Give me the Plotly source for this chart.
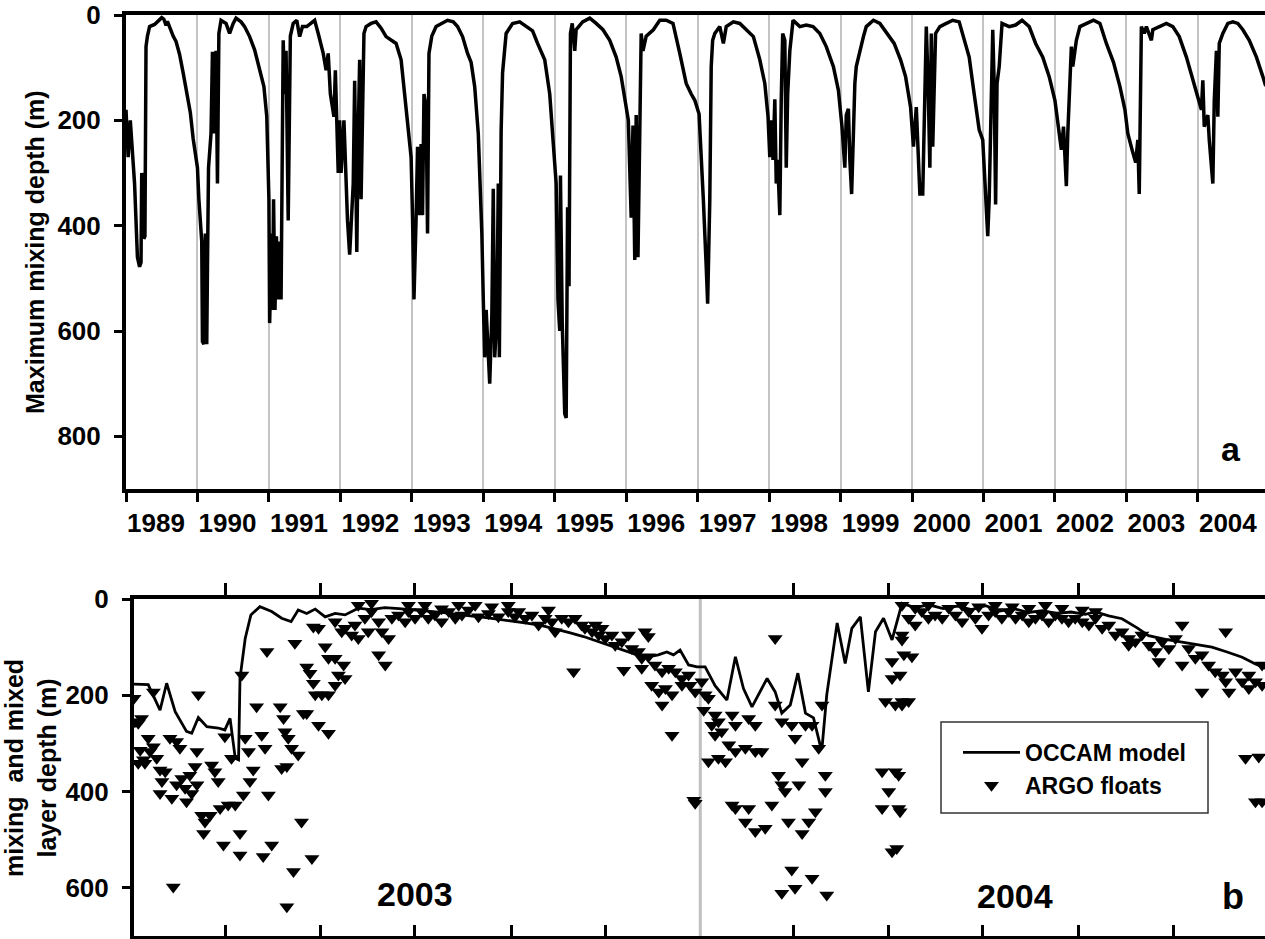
import plotly.graph_objects as go
import numpy as np
import pandas as pd

FONT = "Liberation Sans, Arial, sans-serif"

# ---------------- Panel a: maximum mixing depth (decimal year, depth m) -------------
top_year = [
    1989.00, 1989.03, 1989.06, 1989.09, 1989.12, 1989.16, 1989.19, 1989.21, 1989.22, 1989.24,
    1989.25, 1989.265, 1989.28, 1989.30, 1989.33, 1989.40, 1989.45, 1989.50, 1989.53, 1989.56,
    1989.58, 1989.62, 1989.66, 1989.70, 1989.75, 1989.80, 1989.83, 1989.86, 1989.90, 1989.94,
    1989.97, 1990.00, 1990.02, 1990.06, 1990.07, 1990.09, 1990.11, 1990.13, 1990.14, 1990.155,
    1990.19, 1990.21, 1990.235, 1990.26, 1990.28, 1990.30, 1990.33, 1990.40, 1990.45, 1990.50,
    1990.54, 1990.61, 1990.66, 1990.73, 1990.80, 1990.87, 1990.93, 1990.97, 1991.00, 1991.01,
    1991.04, 1991.05, 1991.065, 1991.085, 1991.105, 1991.13, 1991.15, 1991.17, 1991.19, 1991.20,
    1991.22, 1991.24, 1991.27, 1991.285, 1991.30, 1991.34, 1991.39, 1991.43, 1991.47, 1991.53,
    1991.60, 1991.64, 1991.69, 1991.76, 1991.80, 1991.83, 1991.86, 1991.91, 1991.93, 1991.95,
    1991.97, 1991.99, 1992.01, 1992.05, 1992.075, 1992.10, 1992.13, 1992.15, 1992.18, 1992.20,
    1992.215, 1992.23, 1992.25, 1992.27, 1992.29, 1992.305, 1992.33, 1992.36, 1992.43, 1992.50,
    1992.57, 1992.64, 1992.71, 1992.78, 1992.85, 1992.89, 1992.95, 1992.99, 1993.01, 1993.03,
    1993.06, 1993.08, 1993.10, 1993.13, 1993.15, 1993.17, 1993.20, 1993.22, 1993.24, 1993.28,
    1993.34, 1993.41, 1993.50, 1993.58, 1993.64, 1993.71, 1993.78, 1993.83, 1993.88, 1993.93,
    1993.98, 1994.00, 1994.02, 1994.04, 1994.07, 1994.09, 1994.12, 1994.14, 1994.16, 1994.19,
    1994.21, 1994.225, 1994.25, 1994.27, 1994.32, 1994.41, 1994.51, 1994.60, 1994.69, 1994.76,
    1994.86, 1994.93, 1994.97, 1995.02, 1995.045, 1995.07, 1995.08, 1995.105, 1995.14, 1995.16,
    1995.18, 1995.20, 1995.22, 1995.245, 1995.28, 1995.30, 1995.39, 1995.49, 1995.58, 1995.675,
    1995.77, 1995.86, 1995.93, 1996.00, 1996.03, 1996.07, 1996.095, 1996.12, 1996.14, 1996.165,
    1996.19, 1996.21, 1996.235, 1996.28, 1996.38, 1996.47, 1996.56, 1996.655, 1996.75, 1996.84,
    1996.91, 1996.96, 1997.02, 1997.05, 1997.08, 1997.12, 1997.14, 1997.17, 1997.19, 1997.21,
    1997.24, 1997.31, 1997.36, 1997.40, 1997.50, 1997.59, 1997.68, 1997.78, 1997.87, 1997.94,
    1997.985, 1998.01, 1998.03, 1998.055, 1998.08, 1998.10, 1998.12, 1998.15, 1998.17, 1998.19,
    1998.22, 1998.24, 1998.26, 1998.29, 1998.335, 1998.43, 1998.52, 1998.615, 1998.71, 1998.80,
    1998.90, 1998.97, 1999.02, 1999.06, 1999.08, 1999.11, 1999.13, 1999.155, 1999.18, 1999.20,
    1999.22, 1999.27, 1999.32, 1999.36, 1999.46, 1999.55, 1999.65, 1999.75, 1999.84, 1999.91,
    1999.98, 2000.02, 2000.06, 2000.09, 2000.11, 2000.15, 2000.18, 2000.20, 2000.225, 2000.25,
    2000.27, 2000.29, 2000.33, 2000.39, 2000.48, 2000.57, 2000.66, 2000.71, 2000.80, 2000.87,
    2000.94, 2000.99, 2001.01, 2001.03, 2001.06, 2001.08, 2001.10, 2001.13, 2001.15, 2001.17,
    2001.19, 2001.22, 2001.26, 2001.36, 2001.45, 2001.54, 2001.64, 2001.73, 2001.83, 2001.92,
    2002.00, 2002.04, 2002.09, 2002.12, 2002.16, 2002.18, 2002.21, 2002.23, 2002.25, 2002.28,
    2002.30, 2002.35, 2002.44, 2002.54, 2002.63, 2002.72, 2002.82, 2002.91, 2002.98, 2003.02,
    2003.08, 2003.13, 2003.16, 2003.18, 2003.21, 2003.25, 2003.28, 2003.35, 2003.37, 2003.46,
    2003.56, 2003.65, 2003.74, 2003.84, 2003.93, 2004.00, 2004.05, 2004.07, 2004.09, 2004.14,
    2004.16, 2004.21, 2004.23, 2004.26, 2004.28, 2004.30, 2004.35, 2004.42, 2004.49, 2004.56,
    2004.63, 2004.72, 2004.82, 2004.91, 2004.95,
]
top_depth = [
    180, 270, 200, 265, 320, 460, 478, 470, 300, 320,
    425, 420, 60, 40, 22, 18, 12, 5, 8, 20,
    12, 28, 40, 50, 75, 110, 135, 150, 185, 235,
    260, 290, 350, 430, 620, 625, 415, 625, 480, 290,
    225, 70, 225, 68, 320, 35, 10, 16, 35, 16,
    6, 13, 22, 41, 66, 105, 136, 193, 350, 585,
    415, 560, 350, 560, 420, 540, 430, 540, 160, 48,
    150, 68, 390, 130, 40, 16, 10, 41, 22, 22,
    13, 10, 35, 73, 105, 73, 150, 193, 105, 225,
    300, 200, 300, 200, 300, 390, 455, 385, 320, 125,
    290, 450, 225, 85, 350, 195, 35, 22, 16, 13,
    25, 41, 48, 54, 85, 136, 212, 270, 385, 540,
    385, 250, 380, 245, 380, 150, 175, 415, 73, 40,
    22, 16, 10, 13, 22, 41, 73, 90, 136, 225,
    415, 540, 650, 560, 655, 700, 570, 330, 650, 575,
    320, 650, 220, 110, 35, 16, 13, 22, 30, 54,
    85, 150, 225, 320, 540, 600, 305, 585, 757, 765,
    365, 515, 35, 16, 68, 28, 13, 6, 16, 28,
    48, 80, 117, 180, 200, 385, 210, 465, 190, 460,
    200, 35, 68, 40, 28, 10, 10, 16, 73, 130,
    150, 162, 188, 256, 351, 478, 548, 351, 98, 48,
    35, 22, 54, 22, 13, 16, 28, 41, 85, 130,
    193, 270, 200, 275, 160, 320, 275, 380, 160, 35,
    48, 290, 150, 68, 10, 22, 19, 22, 35, 60,
    98, 143, 212, 290, 190, 178, 275, 340, 225, 130,
    98, 68, 41, 22, 10, 16, 35, 54, 85, 117,
    175, 250, 175, 290, 340, 340, 98, 22, 130, 290,
    35, 250, 35, 22, 16, 10, 13, 35, 80, 150,
    218, 237, 288, 325, 420, 350, 225, 28, 130, 360,
    130, 98, 16, 22, 19, 10, 22, 54, 80, 117,
    162, 200, 256, 212, 325, 225, 130, 60, 98, 68,
    48, 22, 16, 10, 16, 54, 90, 136, 180, 225,
    256, 280, 237, 340, 22, 35, 22, 48, 28, 22,
    16, 22, 41, 80, 124, 155, 180, 124, 212, 190,
    237, 320, 162, 68, 193, 54, 35, 16, 13, 16,
    28, 48, 80, 117, 135,
]
year_labels = [str(y) for y in range(1989, 2005)]

# ---------------- Panel b: months since 1 Jan 2003, depth (m) ----------------
occam_month = [
    0.00, 0.30, 0.55, 0.69, 0.87, 1.11, 1.22, 1.36, 1.54, 1.78, 1.92, 2.03, 2.14, 2.21,
    2.24, 2.35, 2.47, 2.66, 2.91, 3.12, 3.32, 3.47, 3.65, 3.83, 4.04, 4.25, 4.46, 4.74,
    5.0, 5.3, 5.6, 5.9, 6.2, 6.5, 6.8, 7.1, 7.4, 7.7, 8.0, 8.3, 8.6, 8.9, 9.2, 9.5,
    9.8, 10.1, 10.4, 10.6, 10.87, 11.08, 11.26, 11.40, 11.54, 11.72, 11.90, 12.07, 12.28,
    12.53, 12.71, 12.88, 13.06, 13.38, 13.55, 13.69, 13.87, 14.03, 14.19, 14.36, 14.50,
    14.54, 14.64, 14.86, 15.03, 15.17, 15.35, 15.52, 15.67, 15.84, 16.02, 16.23, 16.5,
    16.8, 17.1, 17.4, 17.7, 18.0, 18.3, 18.6, 18.9, 19.2, 19.5, 19.8, 20.1, 20.32, 20.6,
    20.88, 21.2, 21.44, 21.8, 22.15, 22.5, 22.78, 23.1, 23.42, 23.7, 23.95,
]
occam_depth = [
    177, 178, 231, 175, 234, 275, 279, 246, 265, 268, 272, 248, 331, 334,
    165, 82, 33, 16, 26, 40, 47, 23, 30, 21, 37, 30, 33, 19,
    22, 18, 20, 22, 25, 28, 32, 35, 38, 42, 45, 50, 55, 62, 70, 78,
    88, 98, 108, 115, 120, 116, 110, 116, 106, 137, 141, 141, 180,
    210, 120, 186, 224, 165, 193, 237, 220, 154, 237, 247, 303,
    310, 199, 50, 134, 61, 37, 193, 68, 40, 85, 9, 18,
    12, 20, 15, 22, 14, 25, 20, 28, 24, 30, 27, 32, 27, 35,
    41, 60, 76, 84, 90, 96, 100, 110, 121, 135, 145,
]
argo_month = [
    0.00, 0.02, 0.09, 0.16, 0.13, 0.20, 0.30, 0.34, 0.41, 0.48, 0.23, 0.09, 0.41, 0.55,
    0.59, 0.66, 0.55, 0.80, 0.76, 0.90, 0.97, 0.83, 0.90, 1.01, 1.08, 1.11, 1.18, 1.29,
    1.33, 1.36, 1.33, 1.22, 1.43, 1.50, 1.47, 1.61, 1.64, 1.71, 1.78, 1.82, 1.89, 1.92,
    1.99, 2.06, 2.14, 2.24, 2.24, 2.31, 2.28, 2.35, 2.42, 2.45, 2.52, 2.59, 2.70, 2.77,
    2.81, 2.84, 2.73, 2.91, 3.09, 3.16, 3.19, 3.26, 3.33, 3.12, 3.23, 3.37, 3.23, 3.40,
    3.47, 3.54, 3.58, 3.65, 3.76, 3.90, 4.11, 3.79, 3.90, 4.04, 4.11, 3.65, 3.72, 3.79,
    3.83, 3.97, 4.11, 4.25, 4.32, 4.46, 4.43, 4.25, 4.39, 4.25, 4.46, 4.60, 4.67, 4.74,
    4.88, 4.95, 5.02, 5.17, 5.24, 5.38, 5.17, 5.31, 5.45, 5.59, 5.73, 5.80, 5.94, 6.08,
    6.22, 6.36, 6.50, 6.65, 6.79, 6.93, 7.07, 7.28, 7.49, 7.70, 7.91, 8.05, 4.74, 5.02,
    5.80, 6.15, 6.50, 6.86, 7.21, 7.56, 7.91,
    8.13, 8.27, 8.41, 8.55, 8.69, 8.76, 8.90, 8.83, 9.04, 9.18, 9.32, 9.46, 9.53, 9.68,
    9.75, 9.82, 9.89, 9.96, 10.10, 10.17, 10.31, 10.45, 10.52, 10.80, 10.87, 10.66, 10.73,
    9.29, 10.35, 10.73, 10.87, 11.01, 11.16, 11.30, 11.44, 11.58, 11.72, 10.94, 11.09,
    11.23, 11.37, 11.16, 11.37, 11.58, 11.75, 11.86, 12.00, 12.07, 12.14, 11.83, 11.86,
    12.04, 12.28, 12.21, 12.35, 12.64, 12.71, 12.99, 13.13, 12.28, 12.42, 12.57, 12.71,
    12.92, 13.13, 13.27, 12.14, 12.35, 12.50, 12.64, 12.71, 12.92, 13.13, 13.34, 12.99,
    13.48, 13.55, 13.62, 13.69, 13.76, 13.69, 13.90, 13.97, 14.12, 14.05, 14.19, 14.33,
    13.55, 13.83, 14.12, 14.26, 14.40, 14.54, 14.47, 14.61, 14.61, 13.90, 13.97, 13.69,
    14.33, 14.64, 16.02, 16.02, 15.88, 16.09, 16.23, 15.81, 16.09, 15.95, 15.81, 16.16,
    16.02, 16.23, 16.23,
    16.23, 16.27, 16.44, 16.19, 16.23, 16.37, 16.16, 16.19, 16.12, 16.37, 16.51, 16.65,
    16.79, 16.93, 17.08, 17.22, 17.36, 17.50, 17.64, 17.78, 17.92, 18.06, 18.20, 18.34,
    18.49, 18.63, 18.77, 18.91, 19.05, 19.19, 19.33, 19.47, 19.61, 19.75, 19.89, 20.04,
    20.18, 20.32, 20.46, 20.60, 20.74, 20.88, 21.02, 21.02, 21.16, 21.30, 21.45, 21.59,
    21.66, 21.73, 21.87, 22.01, 22.15, 22.15, 22.29, 22.43, 22.57, 22.57, 22.71, 22.85,
    23.00, 23.07, 23.07, 23.14, 23.28, 23.42, 23.56, 23.56, 23.70, 23.84, 23.84, 23.49,
    23.77, 23.70, 23.84, 16.51, 16.79, 17.50, 17.85, 18.20, 18.56, 18.91, 19.26, 19.61,
    20.04, 20.32,
]
argo_depth = [
    206, 255, 258, 248, 314, 334, 289, 317, 307, 331, 341, 341, 193, 355,
    379, 359, 404, 414, 289, 296, 310, 598, 386, 373, 393, 421, 366, 348,
    317, 199, 386, 404, 449, 463, 487, 449, 345, 359, 379, 435, 511, 286,
    428, 331, 428, 487, 532, 407, 158, 289, 317, 379, 355, 224, 283, 310,
    109, 407, 535, 511, 224, 248, 276, 289, 310, 352, 348, 566, 639, 92,
    324, 463, 238, 238, 539, 262, 279, 58, 61, 99, 123, 141, 154, 175,
    199, 199, 199, 179, 158, 165, 137, 123, 68, 47, 61, 75, 54, 82,
    40, 68, 26, 47, 68, 82, 116, 137, 40, 33, 47, 26, 40, 26,
    40, 33, 47, 26, 40, 33, 23, 37, 30, 37, 26, 37, 13, 9,
    13, 13, 20, 13, 13, 16, 13,
    26, 40, 33, 54, 40, 23, 68, 47, 40, 47, 40, 54, 61, 68,
    54, 75, 61, 82, 75, 96, 89, 75, 103, 68, 78, 109, 123,
    151, 148, 144, 120, 137, 151, 144, 151, 165, 158, 179, 193,
    186, 199, 220, 283, 179, 179, 193, 172, 199, 206, 418, 424,
    231, 241, 262, 255, 241, 262, 248, 262, 283, 276, 303, 317,
    310, 317, 317, 338, 331, 338, 428, 435, 463, 483, 476, 435,
    428, 220, 366, 386, 400, 255, 262, 289, 338, 386, 262, 262,
    82, 463, 487, 463, 442, 220, 310, 366, 400, 563, 601, 611,
    580, 615, 130, 165, 213, 220, 220, 359, 359, 400, 435, 435,
    525, 13, 85,
    75, 116, 120, 158, 213, 213, 366, 442, 518, 40, 54, 26,
    40, 33, 40, 19, 33, 47, 26, 40, 61, 33, 26, 40,
    26, 40, 33, 47, 40, 33, 47, 33, 40, 47, 40, 47,
    54, 40, 61, 54, 75, 68, 82, 96, 89, 75, 96, 109,
    130, 89, 103, 82, 137, 54, 103, 123, 116, 193, 137, 151,
    158, 68, 172, 193, 151, 172, 186, 158, 172, 179, 137, 331,
    328, 421, 421, 19, 13, 13, 16, 13, 16, 19, 13, 19,
    23, 26,
]

DAYS_PER_MONTH = 30.5
base = pd.Timestamp("2003-01-01")
occam_x = base + pd.to_timedelta(np.array(occam_month) * DAYS_PER_MONTH, unit="D")
argo_x = base + pd.to_timedelta(np.array(argo_month) * DAYS_PER_MONTH, unit="D")
bi_month_ticks = ["2003-03-01", "2003-05-01", "2003-07-01", "2003-09-01", "2003-11-01",
                  "2004-03-01", "2004-05-01", "2004-07-01", "2004-09-01", "2004-11-01"]
b_range = ["2003-01-01", "2004-12-30"]

W, H = 1265, 939
def px_x(p):
    return p / W
def px_y(p):
    return 1 - p / H

fig = go.Figure()
fig.add_trace(go.Scatter(x=top_year, y=top_depth, mode="lines",
                         line=dict(color="black", width=3.5), showlegend=False,
                         xaxis="x", yaxis="y", hoverinfo="skip"))
fig.add_trace(go.Scatter(x=occam_x, y=occam_depth, mode="lines", name="OCCAM model",
                         line=dict(color="black", width=2.8), xaxis="x2", yaxis="y2"))
fig.add_trace(go.Scatter(x=argo_x, y=argo_depth, mode="markers", name="ARGO floats",
                         marker=dict(symbol="triangle-down", size=13, color="black"),
                         xaxis="x2", yaxis="y2"))
# invisible carrier so the bottom (inner-tick) axis of panel b is drawn
fig.add_trace(go.Scatter(x=[occam_x[0]], y=[occam_depth[0]], mode="markers",
                         marker=dict(opacity=0), showlegend=False, hoverinfo="skip",
                         xaxis="x3", yaxis="y2"))

tickfont = dict(family=FONT, size=26, color="black", weight="bold")

fig.update_layout(
    width=W, height=H,
    margin=dict(l=0, r=0, t=0, b=0),
    paper_bgcolor="white", plot_bgcolor="white",
    font=dict(family=FONT, color="black"),
    xaxis=dict(
        domain=[px_x(126), 1], anchor="y", range=[1989, 2004.94],
        tickmode="array", tickvals=[y + 0.42 for y in range(1989, 2005)], ticktext=year_labels,
        ticks="", ticklen=0, tickfont=tickfont, ticklabelstandoff=8,
        showline=True, linecolor="black", linewidth=4, mirror=True,
        showgrid=False, zeroline=False, automargin=False,
        minor=dict(tickmode="array", tickvals=list(range(1989, 2005)), ticks="outside",
                   ticklen=9, tickwidth=3, tickcolor="black",
                   showgrid=True, gridcolor="#c4c4c4", gridwidth=2),
    ),
    yaxis=dict(
        domain=[px_y(489), px_y(15)], anchor="x", range=[900, 0],
        tickmode="array", tickvals=[0, 200, 400, 600, 800],
        ticks="outside", ticklen=8, tickwidth=3, tickcolor="black",
        tickfont=tickfont, ticklabelstandoff=8,
        showline=True, linecolor="black", linewidth=4,
        showgrid=False, zeroline=False, automargin=False,
    ),
    xaxis2=dict(
        domain=[px_x(134), 1], anchor="y2", type="date", side="top", range=b_range,
        tickmode="array", tickvals=bi_month_ticks, showticklabels=False,
        ticks="outside", ticklen=12, tickwidth=3, tickcolor="black",
        showline=True, linecolor="black", linewidth=4,
        showgrid=False, zeroline=False, automargin=False,
    ),
    xaxis3=dict(
        domain=[px_x(134), 1], anchor="y2", overlaying="x2", type="date", side="bottom",
        range=b_range,
        tickmode="array", tickvals=bi_month_ticks, showticklabels=False,
        ticks="inside", ticklen=11, tickwidth=3, tickcolor="black",
        showline=True, linecolor="black", linewidth=4,
        showgrid=False, zeroline=False, automargin=False,
    ),
    yaxis2=dict(
        domain=[px_y(936), px_y(599)], anchor="x2", range=[700, 0],
        tickmode="array", tickvals=[0, 200, 400, 600],
        ticks="outside", ticklen=8, tickwidth=3, tickcolor="black",
        tickfont=tickfont, ticklabelstandoff=8,
        showline=True, linecolor="black", linewidth=4,
        showgrid=False, zeroline=False, automargin=False,
    ),
    legend=dict(
        x=px_x(958), y=px_y(731), xanchor="left", yanchor="top",
        bgcolor="rgba(0,0,0,0)", borderwidth=0,
        font=dict(family=FONT, size=23, color="black", weight="bold"),
        traceorder="normal", tracegroupgap=0, itemwidth=57,
    ),
    showlegend=True,
)

# legend frame
fig.add_shape(type="rect", xref="paper", yref="paper",
              x0=px_x(941), x1=px_x(1208), y0=px_y(813), y1=px_y(722),
              line=dict(color="#333333", width=1.5), fillcolor="white", layer="above")
# year boundary in panel b
fig.add_shape(type="line", xref="x2", yref="y2", x0="2004-01-01", x1="2004-01-01",
              y0=0, y1=700, line=dict(color="#c0c0c0", width=3), layer="below")

def label(text, x, y, size, angle=0):
    fig.add_annotation(text=text, xref="paper", yref="paper", x=px_x(x), y=px_y(y),
                       xanchor="center", yanchor="middle", showarrow=False, textangle=angle,
                       font=dict(family=FONT, size=size, color="black", weight="bold"))

label("Maximum mixing depth (m)", 35, 252, 25, -90)
label("mixing\u00a0 and mixed<br>layer depth (m)", 30, 768, 25, -90)
label("a", 1231, 449, 34)
label("b", 1233, 896, 36)
label("2003", 415, 894, 34)
label("2004", 1015, 896, 34)

fig.write_html("out.html")
